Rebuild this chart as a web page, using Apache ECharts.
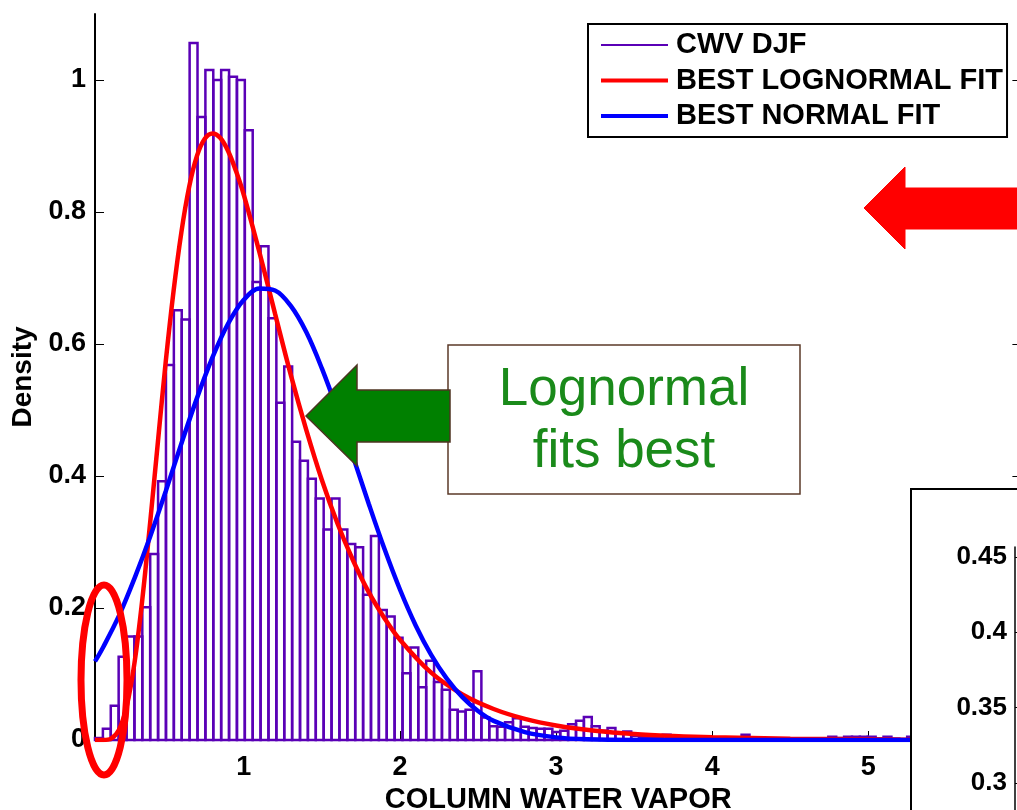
<!DOCTYPE html>
<html>
<head>
<meta charset="utf-8">
<script src="https://cdn.jsdelivr.net/npm/echarts@6.0.0/dist/echarts.min.js"></script>
<style>
html,body{margin:0;padding:0;background:#fff;}
#chart{width:1017px;height:810px;}
</style>
</head>
<body>
<div id="chart"></div>
<script>
// ---------------- data ----------------
const binStart = 0.047;      // left edge of first histogram bin
const binWidth = 0.0505;     // histogram bin width
const cwvDensity = [
  0.003, 0.017, 0.052, 0.126, 0.157, 0.157, 0.201, 0.282, 0.392, 0.568,
  0.651, 0.637, 1.056, 0.944, 1.015, 1.000, 1.015, 1.005, 1.000, 0.924,
  0.694, 0.748, 0.639, 0.511, 0.566, 0.452, 0.423, 0.396, 0.366, 0.319,
  0.366, 0.319, 0.297, 0.292, 0.220, 0.309, 0.197, 0.187, 0.155, 0.101,
  0.140, 0.080, 0.120, 0.088, 0.076, 0.046, 0.043, 0.046, 0.104, 0.034,
  0.021, 0.020, 0.027, 0.033, 0.020, 0.018, 0.017, 0.017, 0.012, 0.014,
  0.024, 0.029, 0.035, 0.021, 0.014, 0.018, 0.011, 0.013, 0.006, 0.004,
  0.003, 0.003, 0.008, 0.004, 0.002, 0.003, 0.002, 0.002, 0.001, 0.002,
  0.001, 0.002, 0.008, 0.002, 0.001, 0.002, 0.002, 0.001, 0.001, 0.002,
  0.001, 0.002, 0.001, 0.005, 0.003, 0.005, 0.005, 0.005, 0.005, 0.002,
  0.005, 0.002, 0.001, 0.005, 0.002, 0.003, 0.001, 0.002, 0.001, 0.001,
  0.002, 0.001, 0.001, 0.001, 0.001, 0.001, 0.001
];

const lognormX = [0.047, 0.1, 0.15, 0.2, 0.25, 0.3, 0.35, 0.4, 0.45, 0.5, 0.55, 0.6, 0.65, 0.7, 0.75, 0.8, 0.85, 0.9, 0.95, 1.0,
                  1.1, 1.2, 1.3, 1.4, 1.5, 1.6, 1.7, 1.8, 1.9, 2.0, 2.2, 2.4, 2.6, 2.8, 3.0, 3.25, 3.5, 3.75, 4.0, 4.5, 5.0, 5.5, 5.98];
const lognormY = [0.000, 0.000, 0.002, 0.015, 0.051, 0.117, 0.213, 0.329, 0.452, 0.573, 0.680, 0.769, 0.838, 0.885, 0.911, 0.919, 0.912, 0.892, 0.862, 0.826,
                  0.739, 0.646, 0.554, 0.470, 0.394, 0.328, 0.272, 0.224, 0.185, 0.152, 0.102, 0.069, 0.047, 0.032, 0.022, 0.014, 0.009, 0.006, 0.004, 0.002, 0.001, 0.000, 0.000];

const normalX = [0.047, 0.1, 0.2, 0.3, 0.4, 0.5, 0.6, 0.7, 0.8, 0.9, 1.0, 1.1, 1.2, 1.3, 1.4, 1.5, 1.6, 1.7, 1.8, 1.9,
                 2.0, 2.1, 2.2, 2.3, 2.4, 2.5, 2.6, 2.8, 3.0, 3.2, 3.5, 4.0, 5.0, 5.98];
const normalY = [0.119, 0.141, 0.188, 0.245, 0.308, 0.377, 0.449, 0.518, 0.580, 0.631, 0.667, 0.684, 0.681, 0.658, 0.618, 0.563, 0.499, 0.429, 0.358, 0.290,
                 0.228, 0.174, 0.129, 0.093, 0.065, 0.044, 0.029, 0.012, 0.004, 0.001, 0.000, 0.000, 0.000, 0.000];

const xTicks = [1, 2, 3, 4, 5];
const yTicks = [0, 0.2, 0.4, 0.6, 0.8, 1];
const insetTicks = [0.3, 0.35, 0.4, 0.45];
const seriesNames = ['CWV DJF', 'BEST LOGNORMAL FIT', 'BEST NORMAL FIT'];
const noteLines = ['Lognormal', 'fits best'];

// ---------------- build ----------------
const FONT = "'Liberation Sans', Arial, Helvetica, sans-serif";
const PURPLE = '#5a00b6';
const histData = cwvDensity.map((v, i) => [binStart + i * binWidth, binStart + (i + 1) * binWidth, v]);
const lognormData = lognormX.map((x, i) => [x, lognormY[i]]);
const normalData = normalX.map((x, i) => [x, normalY[i]]);

const chart = echarts.init(document.getElementById('chart'), null, {renderer: 'canvas'});

const labelStyle = {fontFamily: FONT, fontWeight: 'bold', fontSize: 27, color: '#000'};

const option = {
  backgroundColor: '#fff',
  animation: false,
  grid: [
    {left: 95, top: 14, width: 926.4, height: 726, containLabel: false, outerBoundsMode: 'none'},
    {left: 1015, top: 547, width: 300, height: 386.6, containLabel: false, outerBoundsMode: 'none'}
  ],
  xAxis: [
    {
      type: 'value', gridIndex: 0, min: 0.047, max: 5.98,
      position: 'bottom',
      axisLine: {show: true, onZero: false, lineStyle: {color: '#000', width: 2}},
      axisTick: {show: true, inside: true, length: 9, lineStyle: {color: '#000', width: 1}, customValues: xTicks},
      axisLabel: Object.assign({margin: 14, customValues: xTicks}, labelStyle),
      splitLine: {show: false},
      name: 'COLUMN WATER VAPOR', nameLocation: 'middle', nameGap: 43,
      nameTextStyle: {fontFamily: FONT, fontWeight: 'bold', fontSize: 29, color: '#000'}
    },
    {
      type: 'value', gridIndex: 1, min: 0, max: 1, show: false
    }
  ],
  yAxis: [
    {
      type: 'value', gridIndex: 0, min: 0, max: 1.1, interval: 0.2, position: 'left',
      axisLine: {show: true, onZero: false, lineStyle: {color: '#000', width: 2}},
      axisTick: {show: true, inside: true, length: 9, lineStyle: {color: '#000', width: 1}, customValues: yTicks},
      axisLabel: Object.assign({margin: 9, customValues: yTicks}, labelStyle),
      splitLine: {show: false},
      name: 'Density', nameLocation: 'middle', nameGap: 58, nameRotate: 90,
      nameTextStyle: {fontFamily: FONT, fontWeight: 'bold', fontSize: 28, color: '#000'}
    },
    {
      type: 'value', gridIndex: 0, min: 0, max: 1.1, interval: 0.2, position: 'right',
      axisLine: {show: true, onZero: false, lineStyle: {color: '#000', width: 2}},
      axisTick: {show: true, inside: true, length: 9, lineStyle: {color: '#000', width: 1}, customValues: yTicks},
      axisLabel: {show: false}, splitLine: {show: false}
    },
    {
      type: 'value', gridIndex: 1, min: 0.2, max: 0.4566, interval: 0.05, position: 'left', z: 60,
      axisLine: {show: true, onZero: false, lineStyle: {color: '#000', width: 1.5}},
      axisTick: {show: true, inside: true, length: 5, lineStyle: {color: '#000', width: 1}, customValues: insetTicks},
      axisLabel: {margin: 8, fontFamily: FONT, fontWeight: 'bold', fontSize: 26, color: '#000', customValues: insetTicks},
      splitLine: {show: false}
    }
  ],
  legend: {
    orient: 'vertical', left: 588, top: 24, z: 10,
    backgroundColor: '#fff', borderColor: '#000', borderWidth: 2, borderRadius: 0,
    padding: [6, 4, 6, 13],
    itemWidth: 67, itemHeight: 4, itemGap: 5.5,
    selectedMode: false,
    textStyle: {fontFamily: FONT, fontWeight: 'bold', fontSize: 29, color: '#000', lineHeight: 30, padding: [0, 0, 0, 3]},
    data: [
      {name: seriesNames[0], icon: 'path://M0,0M0,1H67V3H0ZM67,4'},
      {name: seriesNames[1], icon: 'rect'},
      {name: seriesNames[2], icon: 'rect'}
    ]
  },
  series: [
    {
      name: seriesNames[0], type: 'custom', xAxisIndex: 0, yAxisIndex: 0, z: 2,
      itemStyle: {color: PURPLE},
      encode: {x: [0, 1], y: 2},
      data: histData,
      renderItem: function (params, api) {
        const p0 = api.coord([api.value(0), 0]);
        const p1 = api.coord([api.value(1), api.value(2)]);
        return {
          type: 'rect',
          shape: {x: p0[0], y: p1[1], width: p1[0] - p0[0], height: p0[1] - p1[1]},
          style: {fill: 'none', stroke: PURPLE, lineWidth: 2.5}
        };
      }
    },
    {
      name: seriesNames[1], type: 'line', xAxisIndex: 0, yAxisIndex: 0, z: 3,
      data: lognormData, smooth: 0.35, symbol: 'none',
      itemStyle: {color: '#ff0000'},
      lineStyle: {color: '#ff0000', width: 4.5}
    },
    {
      name: seriesNames[2], type: 'line', xAxisIndex: 0, yAxisIndex: 0, z: 4,
      data: normalData, smooth: 0.35, symbol: 'none',
      itemStyle: {color: '#0000ff'},
      lineStyle: {color: '#0000ff', width: 4.5}
    }
  ],
  graphic: [
    {type: 'rect', z: 50, shape: {x: 911, y: 489, width: 200, height: 400},
     style: {fill: '#fff', stroke: '#000', lineWidth: 2}},
    {type: 'rect', z: 20, shape: {x: 448, y: 345, width: 352, height: 149},
     style: {fill: '#fff', stroke: '#5b3a29', lineWidth: 1.5}},
    {type: 'text', z: 21, style: {x: 624, y: 390, text: noteLines[0], fill: '#1a8a1a',
      font: "53px 'Liberation Sans', Arial, sans-serif", textAlign: 'center', textVerticalAlign: 'middle'}},
    {type: 'text', z: 21, style: {x: 624, y: 452, text: noteLines[1], fill: '#1a8a1a',
      font: "53px 'Liberation Sans', Arial, sans-serif", textAlign: 'center', textVerticalAlign: 'middle'}},
    {type: 'polygon', z: 22, shape: {points: [[306, 416], [357, 365], [357, 390], [450, 390], [450, 442], [357, 442], [357, 466]]},
     style: {fill: '#008000', stroke: '#4d3321', lineWidth: 1.5}},
    {type: 'polygon', z: 22, shape: {points: [[864, 208], [905, 167], [905, 188], [1030, 188], [1030, 229], [905, 229], [905, 249]]},
     style: {fill: '#ff0000', stroke: '#ff0000', lineWidth: 1}},
    {type: 'ellipse', z: 100, shape: {cx: 104, cy: 680, rx: 23, ry: 95},
     style: {fill: 'none', stroke: '#ff0000', lineWidth: 7}}
  ]
};
chart.setOption(option);
</script>
</body>
</html>
